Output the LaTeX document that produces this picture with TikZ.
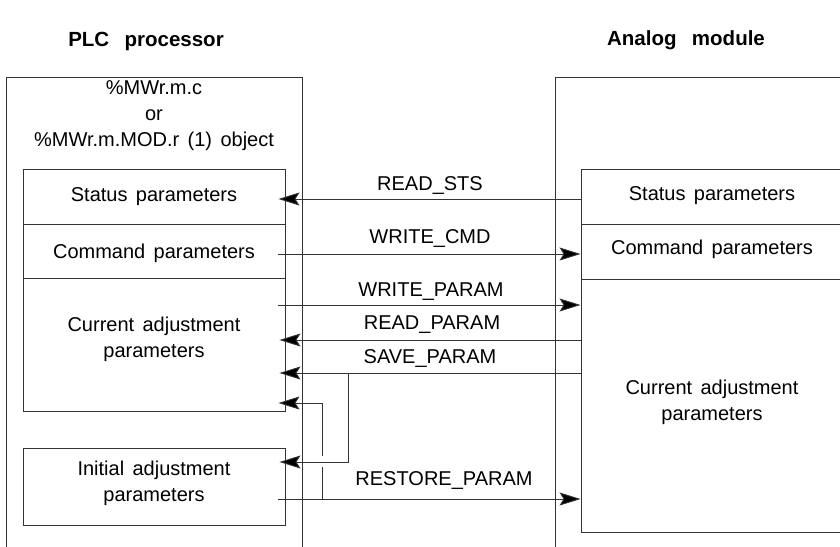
\documentclass[tikz,border=0pt]{standalone}
\usepackage{fontspec}
\setmainfont{Liberation Sans}
\usetikzlibrary{arrows.meta,calc}
\begin{document}
\begin{tikzpicture}[x=1pt,y=-1pt,
 line/.style={draw=black!80, line width=0.9pt},
 box/.style={line, rectangle, inner sep=0pt, minimum width=262pt},
 txt/.style={font=\fontsize{20}{26}\selectfont, execute at begin node={\spaceskip=0.42em\relax}, align=center, inner sep=0pt, text=black},
 arr/.style={line, -{Stealth[length=21pt,width=13pt,inset=4pt,fill=black]}},
 ttl/.style={font=\bfseries\fontsize{20.5}{24}\selectfont, execute at begin node={\spaceskip=0.75em\relax}, inner sep=0pt}]
\useasboundingbox (0,0) rectangle (840,546);
% titles
\node[ttl] (t1) at (146,41) {PLC processor};
\node[ttl] (t2) at (686,40) {Analog module};
% outer frames
\draw[line] (6,550) -- (6,77) -- (302,77) -- (302,550);
\draw[line] (555,550) -- (555,77) -- (850,77);
\node[txt] (obj) at (154,116) {\%MWr.m.c\\or\\\%MWr.m.MOD.r (1) object};
% left inner boxes
\node[box, minimum height=55pt] (lstat) at (154,196.5) {};
\node[txt] at (lstat.center) {Status parameters};
\node[box, minimum height=54pt] (lcmd) at (154,251) {};
\node[txt] at ([yshift=-2pt]lcmd.center) {Command parameters};
\node[box, minimum height=133pt] (lcur) at (154,344.5) {};
\node[txt] at (154,339) {Current adjustment\\parameters};
\node[box, minimum height=77pt] (linit) at (154,486.5) {};
\node[txt] at (154,483) {Initial adjustment\\parameters};
% right inner boxes
\node[box, minimum height=55pt] (rstat) at (712,196.5) {};
\node[txt] at (712,196) {Status parameters};
\node[box, minimum height=55pt] (rcmd) at (712,251.5) {};
\node[txt] at (712,249) {Command parameters};
\node[box, minimum height=253pt] (rcur) at (712,405.5) {};
\node[txt] at (712,402) {Current adjustment\\parameters};
% connectors
\draw[arr, shorten >=-7pt] (rstat.west |- 0,199) -- (lstat.east |- 0,199);
\node[txt] (l1) at (430,186) {READ\_STS};
\draw[arr, shorten <=-7pt] (lcmd.east |- 0,254) -- (rcmd.west |- 0,254);
\node[txt] (l2) at (430,239) {WRITE\_CMD};
\draw[arr, shorten <=-7pt] (lcur.east |- 0,305) -- (rcur.west |- 0,305);
\node[txt] (l3) at (431,292) {WRITE\_PARAM};
\draw[arr, shorten >=-6pt] (rcur.west |- 0,340) -- (lcur.east |- 0,340);
\node[txt] (l4) at (432,325) {READ\_PARAM};
\draw[arr, shorten >=-6pt] (rcur.west |- 0,373) -- (lcur.east |- 0,373);
\node[txt] (l5) at (430,358) {SAVE\_PARAM};
\coordinate (sv) at (348,373);
\draw[arr, shorten >=-6pt] (sv) -- (348,462) -- (linit.east |- 0,462);
\draw[arr, shorten <=-7pt] (linit.east |- 0,499) -- (rcur.west |- 0,499);
\node[txt] (l6) at (444,480) {RESTORE\_PARAM};
\coordinate (rs) at (322,499);
\draw[line] (rs) -- (322,467);
\draw[arr, shorten >=-7pt] (322,456) -- (322,403) -- (lcur.east |- 0,403);
\end{tikzpicture}
\end{document}
